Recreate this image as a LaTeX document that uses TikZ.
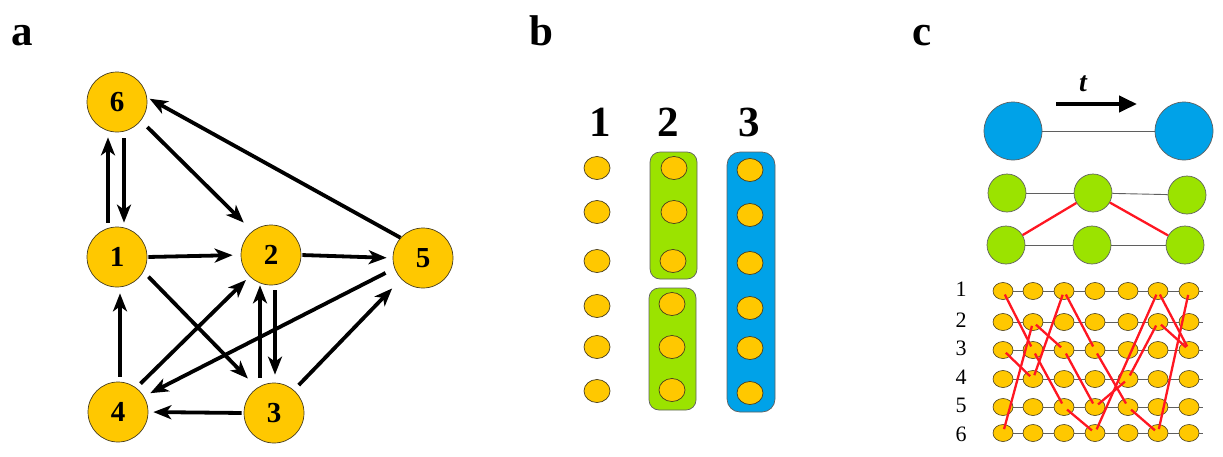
\documentclass[tikz,border=0pt]{standalone}
\usepackage{fontspec}
\setmainfont{Liberation Serif}
\usetikzlibrary{arrows.meta,shapes.geometric,backgrounds}
\definecolor{ygold}{RGB}{255,200,0}
\definecolor{lgreen}{RGB}{155,227,0}
\definecolor{sblue}{RGB}{0,162,232}
\definecolor{edgec}{RGB}{70,60,30}
\definecolor{rline}{RGB}{255,22,34}
\definecolor{gline}{RGB}{95,95,95}
\begin{document}
\begin{tikzpicture}[x=1pt,y=-1pt,
  panel/.style={font=\fontsize{43}{43}\selectfont\bfseries,inner sep=0pt,anchor=base},
  gnode/.style={circle,draw=edgec,line width=0.7pt,fill=ygold,minimum size=60pt,inner sep=0pt,font=\fontsize{29}{29}\selectfont\bfseries},
  arr/.style={line width=3.8pt,-{Stealth[length=18pt,width=14pt,inset=5pt]}},
  bead/.style={ellipse,draw=edgec,line width=0.7pt,fill=ygold,minimum width=26pt,minimum height=23pt,inner sep=0pt},
  boxg/.style={rectangle,rounded corners=10pt,draw=gline,line width=0.7pt,fill=lgreen,inner sep=0pt},
  boxb/.style={rectangle,rounded corners=13pt,draw=gline,line width=0.7pt,fill=sblue,inner sep=0pt},
  bignode/.style={circle,draw=gline,line width=0.7pt,fill=sblue,minimum size=58pt,inner sep=0pt},
  grnode/.style={circle,draw=gline,line width=0.7pt,fill=lgreen,minimum size=38pt,inner sep=0pt},
  gbead/.style={ellipse,draw=edgec,line width=0.6pt,fill=ygold,minimum width=20pt,minimum height=17pt,inner sep=0pt},
  thin/.style={draw=gline,line width=0.9pt},
  red/.style={draw=rline,line width=2.3pt},
  redg/.style={draw=rline,line width=2.3pt,shorten <=4pt,shorten >=4pt},
  rowlab/.style={font=\fontsize{22}{22}\selectfont,inner sep=0pt}
]
\useasboundingbox (0,0) rectangle (1223,456);

% ---------- panel a ----------
\node[panel] (la) at (22.5,45) {a};
\node[gnode] (a6) at (117,102) {6};
\node[gnode] (a1) at (117,257) {1};
\node[gnode] (a2) at (271,255) {2};
\node[gnode] (a5) at (423,258) {5};
\node[gnode] (a4) at (118,412) {4};
\node[gnode] (a3) at (274,413) {3};

\draw[arr] ([xshift=-9pt,yshift=4pt]a1.north) -- ([xshift=-9pt,yshift=-5pt]a6.south);
\draw[arr] ([xshift=7pt,yshift=-6pt]a6.south) -- ([xshift=7pt,yshift=4pt]a1.north);
\draw[arr] ([xshift=2pt,yshift=5pt]a4.north) -- ([xshift=3pt,yshift=-6pt]a1.south);
\draw[arr] ([xshift=-14pt,yshift=5pt]a3.north) -- ([xshift=-11pt]a2.south);
\draw[arr] ([xshift=4pt,yshift=-5pt]a2.south) -- ([xshift=1pt,yshift=8pt]a3.north);
\draw[arr,shorten <=1pt,shorten >=8pt] (a1.east) -- (a2.west);
\draw[arr,shorten <=1pt,shorten >=6pt] (a2.east) -- (a5.west);
\draw[arr,shorten <=2pt,shorten >=5pt] (a3.west) -- (a4.east);
\draw[arr,shorten <=9pt,shorten >=12pt] (a6.-38) -- (a2.128);
\draw[arr,shorten <=0pt,shorten >=3pt] (a5.138) -- (a6.9);
\draw[arr,shorten <=7pt,shorten >=13pt] (a1.-29) -- (a3.124);
\draw[arr,shorten <=6pt,shorten >=5pt] (a4.53) -- (a2.-135);
\draw[arr,shorten <=10pt,shorten >=7pt] (a5.200) -- (a4.31);
\draw[arr,shorten <=7pt,shorten >=13pt] (a3.49) -- (a5.224);

% ---------- panel b ----------
\node[panel] (lb) at (541,45) {b};
\node[panel] (lb1) at (600,136) {1};
\node[panel] (lb2) at (668,136) {2};
\node[panel] (lb3) at (749,136) {3};

\node[boxg,minimum width=47pt,minimum height=127pt] (g2a) at (673.5,215.5) {};
\node[boxg,minimum width=47pt,minimum height=122pt] (g2b) at (672.5,349) {};
\node[boxb,minimum width=48pt,minimum height=260pt] (g3) at (751,282) {};

\foreach \i/\y in {1/168,2/212,3/261,4/306,5/347,6/391}
  \node[bead] (b1\i) at (597,\y) {};
\foreach \i/\x/\y in {1/674/168,2/674/212,3/673/261,4/672/304,5/672/347,6/672/390}
  \node[bead] (b2\i) at (\x,\y) {};
\foreach \i/\y in {1/170,2/215,3/263,4/308,5/348,6/393}
  \node[bead] (b3\i) at (750,\y) {};

% ---------- panel c ----------
\node[panel] (lc) at (922,45) {c};
\node[font=\fontsize{28}{28}\selectfont\bfseries\itshape,inner sep=0pt] (tl) at (1083,84) {t};
\coordinate (t0) at (1056,104);
\coordinate (t1) at (1137,104);
\draw[line width=4.2pt,-{Triangle[length=18pt,width=16pt]}] (t0) -- (t1);

\node[bignode] (c1) at (1013,131) {};
\node[bignode] (c2) at (1184,131) {};
\draw[thin] (c1) -- (c2);

\node[grnode] (u1) at (1007,193) {};
\node[grnode] (u2) at (1093,193) {};
\node[grnode] (u3) at (1187,195) {};
\node[grnode] (d1) at (1006,245) {};
\node[grnode] (d2) at (1092,245) {};
\node[grnode] (d3) at (1185,245) {};
\draw[thin] (u1) -- (u2);
\draw[thin] (u2) -- (u3);
\draw[thin] (d1) -- (d2);
\draw[thin] (d2) -- (d3);
\draw[red] (d1) -- (u2);
\draw[red] (u2) -- (d3);

\foreach \c/\x in {1/1003,2/1033,3/1064,4/1095,5/1128,6/1158,7/1189}
  \foreach \r/\y in {1/291,2/322,3/350,4/379,5/407,6/433}
    \node[gbead] (g\c\r) at (\x,\y) {};
\begin{scope}[on background layer]
\foreach \r in {1,...,6}
  \draw[thin] ([xshift=-10pt]g1\r.center) -- ([xshift=14pt]g7\r.center);
\end{scope}
\foreach \r/\y in {1/289,2/320,3/348,4/377,5/405,6/434}
  \node[rowlab] (rl\r) at (961,\y) {\r};

\draw[redg] (g11.center) -- (g23.center);
\draw[redg] (g23.center) -- (g35.center);
\draw[redg] (g35.center) -- (g46.center);
\draw[redg] (g46.center) -- (g61.center);
\draw[redg] (g61.center) -- (g73.center);
\draw[redg] (g16.center) -- (g22.center);
\draw[redg] (g22.center) -- (g33.center);
\draw[redg] (g33.center) -- (g45.center);
\draw[redg] (g45.center) -- (g54.center);
\draw[redg] (g54.center) -- (g62.center);
\draw[redg] (g62.center) -- (g73.center);
\draw[redg] (g13.center) -- (g24.center);
\draw[redg] (g24.center) -- (g31.center);
\draw[redg] (g31.center) -- (g43.center);
\draw[redg] (g43.center) -- (g55.center);
\draw[redg] (g55.center) -- (g66.center);
\draw[redg] (g66.center) -- (g71.center);
\end{tikzpicture}
\end{document}
